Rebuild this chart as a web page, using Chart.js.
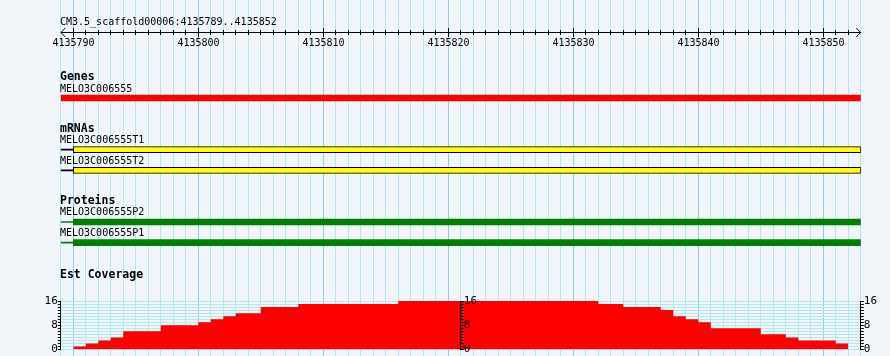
<!DOCTYPE html>
<html>
<head>
<meta charset="utf-8">
<script src="https://cdn.jsdelivr.net/npm/chart.js@4.4.1/dist/chart.umd.min.js"></script>
<style>
  html, body { margin: 0; padding: 0; background: #f2f5fa; }
  #panel { position: relative; width: 890px; height: 356px; }
  #panel canvas { position: absolute; left: 0; top: 0; }
</style>
</head>
<body>
<div id="panel">
  <canvas id="tracks" width="890" height="356"></canvas>
  <canvas id="covRight" width="890" height="356"></canvas>
  <canvas id="covLeft" width="890" height="356"></canvas>
</div>
<script>
// region shown in the panel
const refName = "CM3.5_scaffold00006";
const viewStart = 4135789;
const viewEnd = 4135852;

// Genes track
const geneNames = ["MELO3C006555"];
const geneStarts = [4135789];
const geneEnds = [4135853];

// mRNAs track (exon + connector line to the left edge)
const mrnaNames = ["MELO3C006555T1", "MELO3C006555T2"];
const mrnaLineStarts = [4135789, 4135789];
const mrnaExonStarts = [4135790, 4135790];
const mrnaExonEnds = [4135853, 4135853];

// Proteins track
const proteinNames = ["MELO3C006555P2", "MELO3C006555P1"];
const proteinLineStarts = [4135789, 4135789];
const proteinStarts = [4135790, 4135790];
const proteinEnds = [4135853, 4135853];

// Est coverage, one value per base starting at covStart
const covTitle = "Est Coverage";
const covStart = 4135790;
const covValues = [1, 2, 3, 4, 6, 6, 6, 8, 8, 8, 9, 10, 11, 12, 12, 14, 14, 14,
  15, 15, 15, 15, 15, 15, 15, 15,
  16, 16, 16, 16, 16, 16, 16, 16, 16, 16, 16, 16, 16, 16, 16, 16,
  15, 15, 14, 14, 14, 13, 11, 10, 9, 7, 7, 7, 7, 5, 5, 4, 3, 3, 3, 2];
const covMax = 16;
const covLabelTicks = [0, 8, 16];

// layout (pixels) and styles
const W = 890, H = 356;
const plotLeft = 60.8, plotRight = 860.8;
const laneTop = 98, laneStep = 10.33;
const geneLanes = [0];
const mrnaLanes = [5, 7];
const proteinLanes = [12, 14];
const covTop = 301, covBottom = 349.5;
const GRID_MINOR = "#aeeaf0";
const GRID_MAJOR = "#8ccdec";
const mono = "'DejaVu Sans Mono', monospace";

const midPos = 4135821;
const pxPerBase = (plotRight - plotLeft) / (viewEnd + 1 - viewStart);
const midPixel = plotLeft + (midPos - viewStart) * pxPerBase;

function bars(starts, ends, lanes) {
  return starts.map((s, i) => ({ x: [s, ends[i]], y: lanes[i] }));
}

const tracks = [
  { title: "Genes", names: geneNames, lanes: geneLanes },
  { title: "mRNAs", names: mrnaNames, lanes: mrnaLanes },
  { title: "Proteins", names: proteinNames, lanes: proteinLanes },
];

// ruler + track labels, placed with the chart's own scales
const trackText = {
  id: "trackText",
  afterDraw(chart) {
    const { ctx, chartArea, scales: { x, y } } = chart;
    const textX = Math.floor(chartArea.left);
    ctx.save();
    ctx.fillStyle = "#000";
    ctx.strokeStyle = "#000";
    ctx.textBaseline = "alphabetic";
    ctx.textAlign = "left";
    ctx.font = "10px " + mono;
    ctx.fillText(refName + ":" + viewStart + ".." + viewEnd, textX, 25);

    const left = x.getPixelForValue(viewStart);
    const right = x.getPixelForValue(viewEnd + 1);
    ctx.fillRect(Math.round(left), 32, Math.round(right) - Math.round(left), 1);
    ctx.lineWidth = 1;
    ctx.beginPath();
    ctx.moveTo(left + 4.5, 28); ctx.lineTo(left + 0.2, 32.5); ctx.lineTo(left + 4.5, 37);
    ctx.moveTo(right - 4.5, 28); ctx.lineTo(right - 0.2, 32.5); ctx.lineTo(right - 4.5, 37);
    ctx.stroke();

    ctx.textAlign = "center";
    for (let v = viewStart + 1; v <= viewEnd; v++) {
      const px = Math.round(x.getPixelForValue(v) - 0.5);
      const major = v % 10 === 0;
      ctx.fillRect(px, major ? 28 : 30, 1, major ? 9 : 5);
      if (major) ctx.fillText(String(v), px + 0.5, 46);
    }

    ctx.textAlign = "left";
    tracks.forEach(t => {
      const first = y.getPixelForValue(t.lanes[0]);
      ctx.font = "bold 11.5px " + mono;
      ctx.fillText(t.title, textX, Math.round(first - 18));
      ctx.font = "10px " + mono;
      t.names.forEach((n, i) => {
        ctx.fillText(n, textX, Math.round(y.getPixelForValue(t.lanes[i]) - 6.5));
      });
    });

    ctx.font = "bold 11.5px " + mono;
    ctx.fillText(covTitle, textX, covTop - 23);
    ctx.restore();
  }
};

new Chart(document.getElementById("tracks"), {
  type: "bar",
  data: {
    datasets: [
      { data: bars(geneStarts, geneEnds, geneLanes), backgroundColor: "#ff0000", barThickness: 6 },
      { data: bars(mrnaLineStarts, mrnaExonStarts, mrnaLanes), backgroundColor: "#000000", barThickness: 1 },
      { data: bars(mrnaExonStarts, mrnaExonEnds, mrnaLanes), backgroundColor: "#ffff00",
        borderColor: "#000000", borderWidth: 1, borderSkipped: false, barThickness: 6 },
      { data: bars(proteinLineStarts, proteinStarts, proteinLanes), backgroundColor: "#008000", barThickness: 1 },
      { data: bars(proteinStarts, proteinEnds, proteinLanes), backgroundColor: "#008000", barThickness: 6 },
    ],
  },
  options: {
    indexAxis: "y",
    responsive: false,
    animation: false,
    devicePixelRatio: 1,
    datasets: { bar: { grouped: false } },
    layout: { padding: { left: plotLeft, right: W - plotRight, top: 0, bottom: 0 } },
    plugins: { legend: { display: false }, tooltip: { enabled: false } },
    scales: {
      x: {
        type: "linear",
        min: viewStart,
        max: viewEnd + 1,
        border: { display: false },
        ticks: { display: false, stepSize: 1, autoSkip: false },
        grid: {
          drawTicks: false,
          offset: false,
          color: c => (c.tick && c.tick.value % 10 === 0 ? GRID_MAJOR : GRID_MINOR),
        },
        afterFit: s => { s.height = 0; },
      },
      y: {
        type: "linear",
        display: false,
        offset: false,
        reverse: true,
        min: -laneTop / laneStep,
        max: (H - laneTop) / laneStep,
      },
    },
  },
  plugins: [trackText],
});

// coverage, split at the middle axis into two charts
const covPoints = covValues.map((v, i) => ({ x: covStart + i, y: v }));
covPoints.push({ x: covStart + covValues.length, y: covValues[covValues.length - 1] });

function covAxis(position, width, onTop) {
  const z = onTop ? 1 : 0;
  return {
    type: "linear",
    axis: "y",
    position: position,
    min: 0,
    max: covMax,
    ticks: {
      stepSize: 1,
      autoSkip: false,
      padding: 0,
      color: "#000",
      z: z,
      font: { family: mono, size: 11, lineHeight: 1 },
      callback: v => (covLabelTicks.includes(v) ? String(v) : ""),
    },
    grid: {
      color: GRID_MINOR,
      tickColor: "#000",
      tickLength: 3,
      drawOnChartArea: !onTop,
      z: onTop ? 1 : -1,
    },
    border: { color: "#000", width: 1, z: z },
    afterFit: s => { s.width = width; },
  };
}

function covChart(id, xMin, xMax, padLeft, yScales, yId) {
  return new Chart(document.getElementById(id), {
    type: "line",
    data: {
      datasets: [{
        data: covPoints,
        yAxisID: yId,
        stepped: true,
        fill: "origin",
        backgroundColor: "#ff0000",
        borderColor: "rgba(0,0,0,0)",
        borderWidth: 0,
        pointRadius: 0,
      }],
    },
    options: {
      responsive: false,
      animation: false,
      devicePixelRatio: 1,
      layout: { padding: { top: covTop, bottom: H - covBottom, left: padLeft, right: 0 } },
      plugins: { legend: { display: false }, tooltip: { enabled: false } },
      scales: Object.assign({ x: { type: "linear", display: false, min: xMin, max: xMax } }, yScales),
    },
  });
}

covChart("covRight", midPos, viewEnd + 1, midPixel,
  { yr: covAxis("right", W - plotRight, false) }, "yr");
covChart("covLeft", viewStart, midPos, 0,
  { yl: covAxis("left", plotLeft, false), ym: covAxis("right", W - midPixel, true) }, "yl");
</script>
</body>
</html>
